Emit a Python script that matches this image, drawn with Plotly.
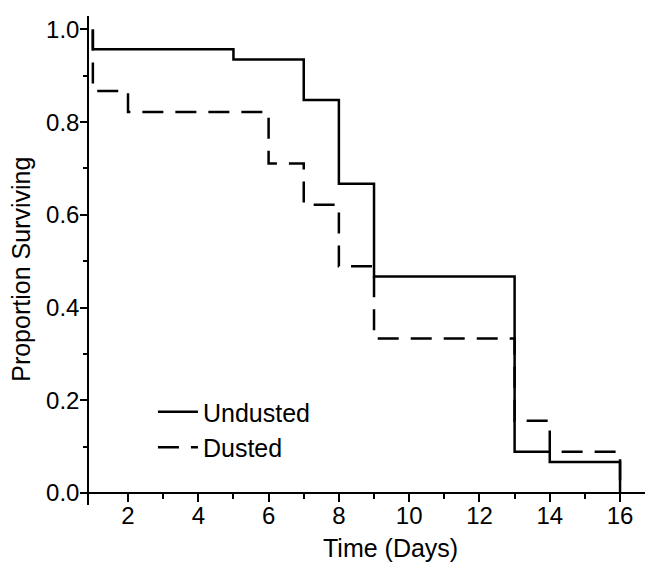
import plotly.graph_objects as go

# Kaplan-Meier style survival data (step after each time)
undusted_days = [1, 1, 5, 7, 8, 9, 13, 14, 16]
undusted_surv = [1.0, 0.957, 0.935, 0.848, 0.667, 0.467, 0.089, 0.067, 0.0]

dusted_days = [1, 1, 2, 6, 7, 8, 9, 13, 14, 16]
dusted_surv = [1.0, 0.867, 0.822, 0.711, 0.622, 0.489, 0.333, 0.156, 0.089, 0.0]

x_ticks = [2, 4, 6, 8, 10, 12, 14, 16]
y_ticks = [0.0, 0.2, 0.4, 0.6, 0.8, 1.0]
y_tick_labels = ["0.0", "0.2", "0.4", "0.6", "0.8", "1.0"]

FONT = "Liberation Sans, Arial, sans-serif"

fig = go.Figure()
fig.add_trace(go.Scatter(x=undusted_days, y=undusted_surv, mode="lines",
                         line=dict(shape="hv", color="black", width=2.5),
                         name="Undusted"))
fig.add_trace(go.Scatter(x=dusted_days, y=dusted_surv, mode="lines",
                         line=dict(shape="hv", color="black", width=2.5, dash="21px,12px"),
                         name="Dusted"))

ymin, ymax = -0.026, 1.029
fig.update_layout(
    width=645, height=560,
    margin=dict(l=81, r=8, t=8, b=63),
    paper_bgcolor="white", plot_bgcolor="white",
    font=dict(family=FONT, size=24, color="black"),
    showlegend=True,
    legend=dict(x=0.115, y=0.237, xanchor="left", yanchor="top",
                bgcolor="rgba(0,0,0,0)", borderwidth=0,
                font=dict(family=FONT, size=25, color="black"),
                tracegroupgap=0, itemwidth=40),
    xaxis=dict(range=[0.89, 16.71], tickvals=x_ticks, ticks="outside",
               ticklen=8, tickwidth=1.5, tickcolor="black",
               showline=True, linecolor="black", linewidth=1.5,
               showgrid=False, zeroline=False, anchor="free",
               position=(0 - ymin) / (ymax - ymin), automargin=False,
               ticklabelstandoff=-6,
               minor=dict(tickvals=[3, 5, 7, 9, 11, 13, 15], ticks="outside",
                          ticklen=5, tickwidth=1.5, tickcolor="black"),
               tickfont=dict(family=FONT, size=24)),
    yaxis=dict(range=[ymin, ymax], tickvals=y_ticks, ticktext=y_tick_labels,
               ticks="outside", ticklen=7, tickwidth=1.5, tickcolor="black",
               showline=True, linecolor="black", linewidth=1.5,
               showgrid=False, zeroline=False, automargin=False,
               ticklabelstandoff=-4,
               minor=dict(tickvals=[0.1, 0.3, 0.5, 0.7, 0.9], ticks="outside",
                          ticklen=4, tickwidth=1.5, tickcolor="black"),
               tickfont=dict(family=FONT, size=24)),
    annotations=[
        dict(text="Time (Days)", xref="paper", yref="paper", x=0.543, y=-0.088,
             xanchor="center", yanchor="middle", showarrow=False,
             font=dict(family=FONT, size=25, color="black")),
        dict(text="Proportion Surviving", xref="paper", yref="paper", x=-0.1223, y=0.481,
             xanchor="center", yanchor="middle", showarrow=False, textangle=-90,
             font=dict(family=FONT, size=25, color="black")),
    ],
)

fig.write_html("out.html")
